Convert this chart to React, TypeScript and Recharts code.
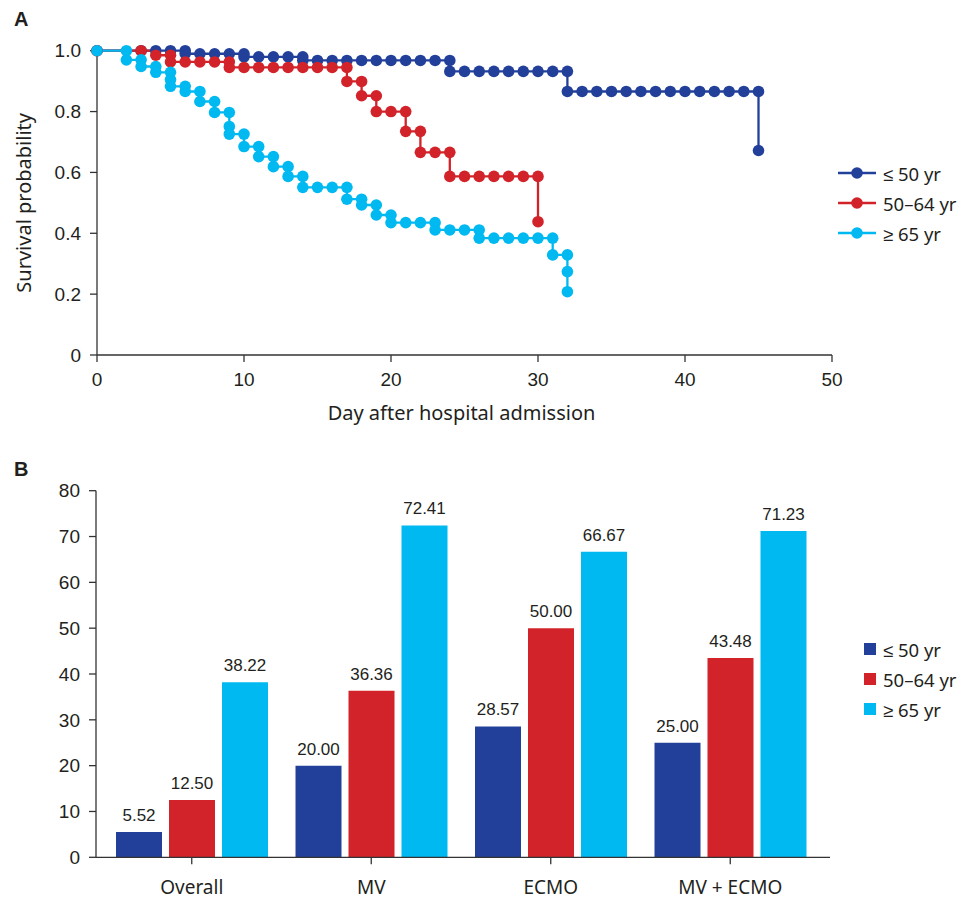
import React from 'react';
import {
  LineChart, Line, BarChart, Bar, XAxis, YAxis, Legend, Label, LabelList,
} from 'recharts';

// survival curves: [day, survival probability], repeated day = step down
const le50: [number, number][] = [
  [0, 1], [3, 1], [4, 1], [5, 1], [6, 1], [6, 0.99], [7, 0.99], [8, 0.99], [9, 0.99],
  [10, 0.99], [10, 0.98], [11, 0.98], [12, 0.98], [13, 0.98], [14, 0.98], [14, 0.968],
  [15, 0.968], [16, 0.968], [17, 0.968], [18, 0.968], [19, 0.968], [20, 0.968], [21, 0.968],
  [22, 0.968], [23, 0.968], [24, 0.968], [24, 0.932], [25, 0.932], [26, 0.932], [27, 0.932],
  [28, 0.932], [29, 0.932], [30, 0.932], [31, 0.932], [32, 0.932], [32, 0.866], [33, 0.866],
  [34, 0.866], [35, 0.866], [36, 0.866], [37, 0.866], [38, 0.866], [39, 0.866], [40, 0.866],
  [41, 0.866], [42, 0.866], [43, 0.866], [44, 0.866], [45, 0.866], [45, 0.672],
];

const age50to64: [number, number][] = [
  [0, 1], [3, 1], [4, 0.985], [5, 0.985], [5, 0.963], [6, 0.963], [7, 0.963], [8, 0.963],
  [9, 0.963], [9, 0.945], [10, 0.945], [11, 0.945], [12, 0.945], [13, 0.945], [14, 0.945],
  [15, 0.945], [16, 0.945], [17, 0.945], [17, 0.899], [18, 0.899], [18, 0.852], [19, 0.852],
  [19, 0.8], [20, 0.8], [21, 0.8], [21, 0.735], [22, 0.735], [22, 0.666], [23, 0.666],
  [24, 0.666], [24, 0.587], [25, 0.587], [26, 0.587], [27, 0.587], [28, 0.587], [29, 0.587],
  [30, 0.587], [30, 0.438],
];

const ge65: [number, number][] = [
  [0, 1], [2, 1], [2, 0.97], [3, 0.97], [3, 0.948], [4, 0.948], [4, 0.929], [5, 0.929],
  [5, 0.905], [5, 0.883], [6, 0.883], [6, 0.866], [7, 0.866], [7, 0.833], [8, 0.833],
  [8, 0.797], [9, 0.797], [9, 0.751], [9, 0.726], [10, 0.726], [10, 0.685], [11, 0.685],
  [11, 0.652], [12, 0.652], [12, 0.619], [13, 0.619], [13, 0.587], [14, 0.587], [14, 0.551],
  [15, 0.551], [16, 0.551], [17, 0.551], [17, 0.512], [18, 0.512], [18, 0.493], [19, 0.493],
  [19, 0.46], [20, 0.46], [20, 0.435], [21, 0.435], [22, 0.435], [23, 0.435], [23, 0.411],
  [24, 0.411], [25, 0.411], [26, 0.411], [26, 0.384], [27, 0.384], [28, 0.384], [29, 0.384],
  [30, 0.384], [31, 0.384], [31, 0.329], [32, 0.329], [32, 0.274], [32, 0.208],
];

const dayTicks = [0, 10, 20, 30, 40, 50];
const survTicks = [0, 0.2, 0.4, 0.6, 0.8, 1.0];

// mortality (%) by treatment group
const groups = ['Overall', 'MV', 'ECMO', 'MV + ECMO'];
const mortLe50 = [5.52, 20.0, 28.57, 25.0];
const mort50to64 = [12.5, 36.36, 50.0, 43.48];
const mortGe65 = [38.22, 72.41, 66.67, 71.23];
const mortTicks = [0, 10, 20, 30, 40, 50, 60, 70, 80];

const seriesNames = ['≤ 50 yr', '50–64 yr', '≥ 65 yr'];
const colors = ['#22409a', '#d2232a', '#00b9f1'];

const AXIS = '#333';
const TEXT = '#231f20';
const NUM_FONT = '"Liberation Sans", Arial, sans-serif';
const WORD_FONT = '"Noto Sans", sans-serif';

const toRows = (pts: [number, number][]) => pts.map(([day, s]) => ({ day, s }));

const barData = groups.map((g, i) => ({
  group: g,
  le50: mortLe50[i],
  mid: mort50to64[i],
  ge65: mortGe65[i],
}));

const numTick = { fill: TEXT, fontSize: 19, fontFamily: NUM_FONT };

// keep legend rows in series order (Recharts sorts them by name otherwise)
const ordered = (payload: any[] = []) =>
  [...payload].sort((a, b) => seriesNames.indexOf(a.value) - seriesNames.indexOf(b.value));

const LineLegend = (props: any) => (
  <div>
    {ordered(props.payload).map((p: any) => (
      <div key={p.value} style={{ display: 'flex', alignItems: 'center', height: 30 }}>
        <svg width={38} height={14}>
          <line x1={0} y1={7} x2={38} y2={7} stroke={p.color} strokeWidth={2.3} />
          <circle cx={19} cy={7} r={5.8} fill={p.color} />
        </svg>
        <span style={{ marginLeft: 7, fontFamily: WORD_FONT, fontSize: 18.5, color: TEXT }}>{p.value}</span>
      </div>
    ))}
  </div>
);

const BarLegend = (props: any) => (
  <div>
    {ordered(props.payload).map((p: any) => (
      <div key={p.value} style={{ display: 'flex', alignItems: 'center', height: 30 }}>
        <svg width={12} height={12}>
          <rect x={0} y={0} width={12} height={12} fill={p.color} />
        </svg>
        <span style={{ marginLeft: 7, fontFamily: WORD_FONT, fontSize: 18.5, color: TEXT }}>{p.value}</span>
      </div>
    ))}
  </div>
);

const panelLetter: React.CSSProperties = {
  position: 'absolute', left: 14, fontFamily: NUM_FONT, fontWeight: 'bold', fontSize: 20, color: TEXT,
};

const lineSeries = [le50, age50to64, ge65];

export default function App() {
  return (
    <div style={{ position: 'absolute', left: 0, top: 0, width: 972, height: 899, background: '#fff' }}>
      <div style={{ ...panelLetter, top: 8 }}>A</div>
      <div style={{ ...panelLetter, top: 458 }}>B</div>

      <div style={{ position: 'absolute', left: 0, top: 0 }}>
        <LineChart width={972} height={440} margin={{ top: 50.7, right: 140, bottom: 55, left: 37 }}>
          <XAxis
            type="number"
            dataKey="day"
            domain={[0, 50]}
            ticks={dayTicks}
            height={30}
            stroke={AXIS}
            strokeWidth={1.3}
            tickSize={7}
            tickMargin={11}
            tick={numTick}
          >
            <Label
              value="Day after hospital admission"
              position="bottom"
              offset={21}
              dx={-3}
              style={{ fill: TEXT, fontSize: 20, fontFamily: WORD_FONT }}
            />
          </XAxis>
          <YAxis
            type="number"
            domain={[0, 1]}
            ticks={survTicks}
            width={60}
            stroke={AXIS}
            strokeWidth={1.3}
            tickSize={7}
            tickMargin={9}
            tick={numTick}
            tickFormatter={(v: number) => (v === 0 ? '0' : v.toFixed(1))}
          >
            <Label
              value="Survival probability"
              position="center"
              angle={-90}
              dx={-43}
              style={{ fill: TEXT, fontSize: 20, fontFamily: WORD_FONT, textAnchor: 'middle' }}
            />
          </YAxis>
          {lineSeries.map((pts, i) => (
            <Line
              key={seriesNames[i]}
              data={toRows(pts)}
              dataKey="s"
              name={seriesNames[i]}
              type="stepAfter"
              stroke={colors[i]}
              strokeWidth={2.3}
              dot={{ r: 5.8, fill: colors[i], stroke: 'none' }}
              activeDot={false}
              isAnimationActive={false}
            />
          ))}
          <Legend
            layout="vertical"
            align="center"
            verticalAlign="middle"
            content={LineLegend}
            wrapperStyle={{ left: 838, top: 158, width: 130 }}
          />
        </LineChart>
      </div>

      <div style={{ position: 'absolute', left: 0, top: 450 }}>
        <BarChart
          width={972}
          height={449}
          data={barData}
          margin={{ top: 40.7, right: 142, bottom: 11.7, left: 36 }}
          barSize={46}
          barGap={7}
        >
          <XAxis
            dataKey="group"
            height={30}
            stroke={AXIS}
            strokeWidth={1.3}
            tickSize={7}
            tickMargin={16}
            padding={{ left: 6, right: 10 }}
            tick={{ fill: TEXT, fontSize: 19, fontFamily: WORD_FONT }}
          />
          <YAxis
            type="number"
            domain={[0, 80]}
            ticks={mortTicks}
            width={60}
            stroke={AXIS}
            strokeWidth={1.3}
            tickSize={7}
            tickMargin={9}
            tick={numTick}
          />
          <Bar dataKey="le50" name={seriesNames[0]} fill={colors[0]} isAnimationActive={false}>
            <LabelList dataKey="le50" position="top" offset={11} fill={TEXT} fontSize={17} fontFamily={NUM_FONT}
              formatter={(v: any) => Number(v).toFixed(2)} />
          </Bar>
          <Bar dataKey="mid" name={seriesNames[1]} fill={colors[1]} isAnimationActive={false}>
            <LabelList dataKey="mid" position="top" offset={11} fill={TEXT} fontSize={17} fontFamily={NUM_FONT}
              formatter={(v: any) => Number(v).toFixed(2)} />
          </Bar>
          <Bar dataKey="ge65" name={seriesNames[2]} fill={colors[2]} isAnimationActive={false}>
            <LabelList dataKey="ge65" position="top" offset={11} fill={TEXT} fontSize={17} fontFamily={NUM_FONT}
              formatter={(v: any) => Number(v).toFixed(2)} />
          </Bar>
          <Legend
            layout="vertical"
            align="center"
            verticalAlign="middle"
            content={BarLegend}
            wrapperStyle={{ left: 864, top: 184, width: 108 }}
          />
        </BarChart>
      </div>
    </div>
  );
}
